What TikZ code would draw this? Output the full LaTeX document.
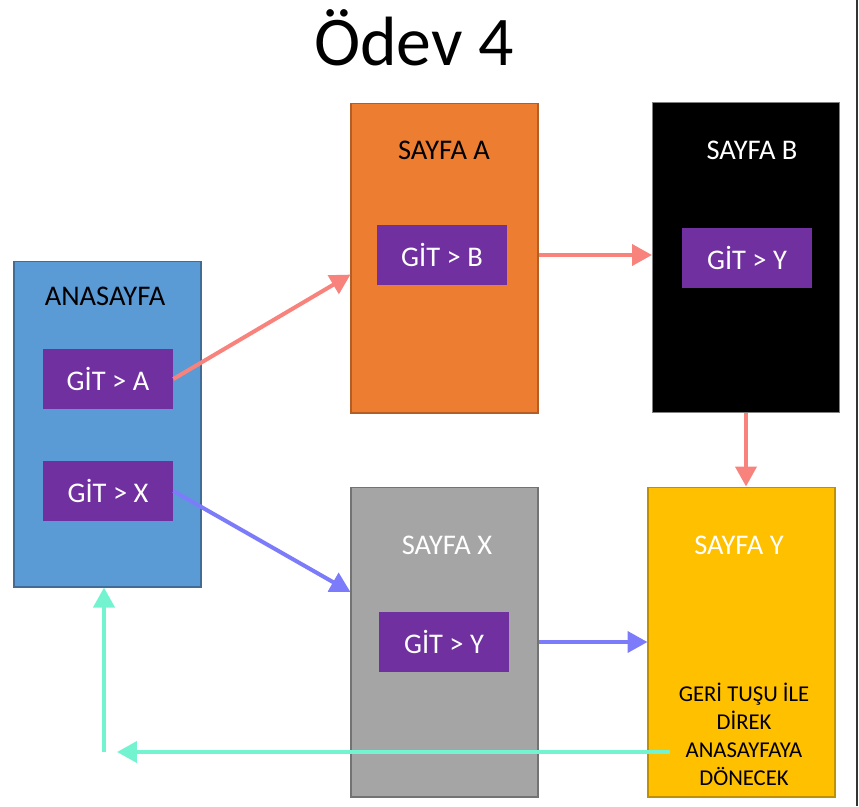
\documentclass[tikz,border=0pt]{standalone}
\usepackage{fontspec}
\setmainfont{Carlito}
\usetikzlibrary{positioning, arrows.meta, calc}
\definecolor{homeblue}{HTML}{5B9BD5}
\definecolor{pageorange}{HTML}{ED7D31}
\definecolor{pagegray}{HTML}{A5A5A5}
\definecolor{pageyellow}{HTML}{FFC000}
\definecolor{btnpurple}{HTML}{7030A0}
\definecolor{linkred}{HTML}{F8827C}
\definecolor{linkblue}{HTML}{7C7CFA}
\definecolor{linkgreen}{HTML}{74F3D0}
\tikzset{
	x=0.02cm, y=-0.02cm, % one unit is one pixel of the screen
	page/.style={draw, line width=0.6pt, minimum width=3.74cm, minimum height=6.2cm}, % sets the properties for each page box
	button/.style={fill=btnpurple, text=white, minimum width=2.6cm, minimum height=1.2cm, font=\fontsize{16.2}{18}\selectfont},
	title/.style={font=\fontsize{16.2}{18}\selectfont},
	link/.style={-{Triangle[length=0.4cm, width=0.42cm]}, line width=0.08cm}, % every arrow between pages
}

\begin{document}
\begin{tikzpicture}
	\useasboundingbox (0,0) rectangle (859,806);
	\node[anchor=base, font=\fontsize{39.7}{44}\selectfont] (odev) at (414,65) {Ödev 4};
	% pages
	\node[page, fill=homeblue, draw=homeblue!70!black, minimum height=6.52cm] (home) at (107.5,424) {};
	\node[page, fill=pageorange, draw=pageorange!75!black] (pageA) at (444.5,258) {};
	\node[page, fill=black, draw=gray] (pageB) at (746,257.5) {};
	\node[page, fill=pagegray, draw=pagegray!70!black] (pageX) at (444.5,642) {};
	\node[page, fill=pageyellow, draw=pageyellow!75!black] (pageY) at (741.5,642) {};
	% page titles
	\node[title] (homeT) at (105,296) {ANASAYFA};
	\node[title] (pageAT) at (444,150) {SAYFA A};
	\node[title, text=white] (pageBT) at (752,150) {SAYFA B};
	\node[title, text=white] (pageXT) at (447,545) {SAYFA X};
	\node[title, text=white] (pageYT) at (739,545) {SAYFA Y};
	% buttons
	\node[button] (gitA) at (108,379) {GİT > A};
	\node[button] (gitX) at (108,491) {GİT > X};
	\node[button] (gitB) at (442,255) {GİT > B};
	\node[button] (gitBY) at (747,257.5) {GİT > Y};
	\node[button] (gitXY) at (444,642) {GİT > Y};
	\node[align=center, font=\fontsize{12.9}{15.9}\selectfont] (back) at (744,734) {GERİ TUŞU İLE\\DİREK\\ANASAYFAYA\\DÖNECEK};
	\coordinate (retstart) at (670,752);
	\coordinate (corner) at (104,752);
	% links
	\draw[link, linkred] (gitA.east) -- (pageA.190);
	\draw[link, linkred] (pageA.east |- gitB) -- (pageB.west |- gitB);
	\draw[link, linkred] (pageB.south) -- (pageB.south |- pageY.north);
	\draw[link, linkblue] (gitX.east) -- (pageX.152);
	\draw[link, linkblue] (pageX.east) -- (pageY.west);
	\draw[link, linkgreen] (retstart) -- ([xshift=0.26cm]corner);
	\draw[link, linkgreen] (corner) -- (corner |- home.south);
	\draw[line width=0.04cm, gray!40!black] (857,0) -- (857,806);
\end{tikzpicture}
\end{document}
